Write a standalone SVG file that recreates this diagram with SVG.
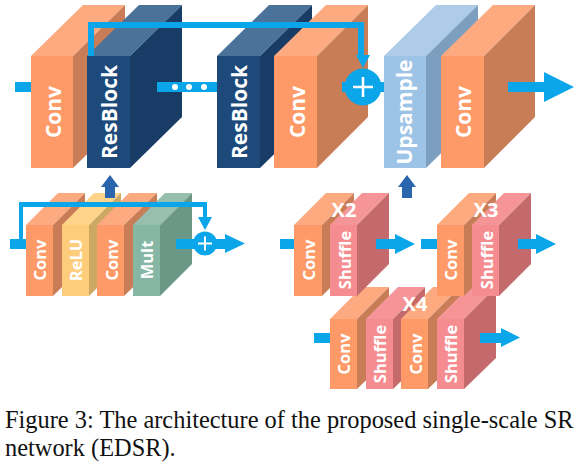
<svg xmlns="http://www.w3.org/2000/svg" width="578" height="465" viewBox="0 0 578 465">
<style>
.o .f{fill:#fd9a68}.o .s{fill:#c97d56}.o .t{fill:#fdaa80}
.n .f{fill:#1d4a7a}.n .s{fill:#183c66}.n .t{fill:#4b7298}
.u .f{fill:#9dc3e6}.u .s{fill:#7c9ebf}.u .t{fill:#aecbe7}
.p .f{fill:#f58d90}.p .s{fill:#c46a6c}.p .t{fill:#f59598}
.g .f{fill:#86b7a4}.g .s{fill:#6a9786}.g .t{fill:#98bfae}
.y .f{fill:#fdcd7c}.y .s{fill:#cca862}.y .t{fill:#fdd48a}
text{font-family:"Open Sans","DejaVu Sans",sans-serif;font-weight:700;fill:#fff;text-anchor:middle}
.L{font-size:21px}.M{font-size:16.500px}.X{font-size:20px}
.b{fill:#0ba6ea}.d{fill:#2a66ad}
.c{font-family:"Liberation Serif","Times New Roman",serif;font-weight:400;fill:#111;text-anchor:start;font-size:24.400px}
</style>
<g id="node-conv1" class="o"><polygon class="t" points="31,56 83,5 125,5 73,56"/><polygon class="s" points="73,56 125,5 125,117 73,168"/><rect class="f" x="31" y="56" width="42" height="112"/><text class="L" transform="translate(61,112) rotate(-90)">Conv</text></g>
<g id="node-resblock1" class="n"><polygon class="t" points="87,56 139,5 182,5 130,56"/><polygon class="s" points="130,56 182,5 182,117 130,168"/><rect class="f" x="87" y="56" width="43" height="112"/><text class="L" transform="translate(117,112) rotate(-90)">ResBlock</text></g>
<g id="node-resblock2" class="n"><polygon class="t" points="217,56 269,5 312,5 260,56"/><polygon class="s" points="260,56 312,5 312,117 260,168"/><rect class="f" x="217" y="56" width="43" height="112"/><text class="L" transform="translate(247,112) rotate(-90)">ResBlock</text></g>
<g id="node-conv2" class="o"><polygon class="t" points="274,56 326,5 368,5 317,56"/><polygon class="s" points="317,56 368,5 368,117 317,168"/><rect class="f" x="274" y="56" width="43" height="112"/><text class="L" transform="translate(305,112) rotate(-90)">Conv</text></g>
<g id="node-upsample" class="u"><polygon class="t" points="384,56 436,5 478,5 426,56"/><polygon class="s" points="426,56 478,5 478,117 426,168"/><rect class="f" x="384" y="56" width="42" height="112"/><text class="L" transform="translate(412,112) rotate(-90)">Upsample</text></g>
<g id="node-conv3" class="o"><polygon class="t" points="441,56 493,5 535,5 484,56"/><polygon class="s" points="484,56 535,5 535,117 484,168"/><rect class="f" x="441" y="56" width="43" height="112"/><text class="L" transform="translate(471,112) rotate(-90)">Conv</text></g>

<g id="node-res-conv1" class="o"><polygon class="t" points="26,225 58,193 85,193 53,225"/><polygon class="s" points="53,225 85,193 85,264 53,296"/><rect class="f" x="26" y="225" width="27" height="71"/><text class="M" transform="translate(46,260) rotate(-90)">Conv</text></g>
<g id="node-res-relu" class="y"><polygon class="t" points="62,225 94,193 121,193 89,225"/><polygon class="s" points="89,225 121,193 121,264 89,296"/><rect class="f" x="62" y="225" width="27" height="71"/><text class="M" transform="translate(82,260) rotate(-90)">ReLU</text></g>
<g id="node-res-conv2" class="o"><polygon class="t" points="97,225 129,193 157,193 124,225"/><polygon class="s" points="124,225 157,193 157,264 124,296"/><rect class="f" x="97" y="225" width="27" height="71"/><text class="M" transform="translate(118,260) rotate(-90)">Conv</text></g>
<g id="node-res-mult" class="g"><polygon class="t" points="133,225 165,193 192,193 160,225"/><polygon class="s" points="160,225 192,193 192,264 160,296"/><rect class="f" x="133" y="225" width="27" height="71"/><text class="M" transform="translate(153,260) rotate(-90)">Mult</text></g>

<g id="node-x4">
<g class="o"><polygon class="t" points="330,319 362,287 389,287 357,319"/><polygon class="s" points="357,319 389,287 389,358 357,389"/><rect class="f" x="330" y="319" width="27" height="70"/><text class="M" transform="translate(350,354) rotate(-90)">Conv</text></g>
<g class="p"><polygon class="t" points="366,319 398,287 425,287 393,319"/><polygon class="s" points="393,319 425,287 425,358 393,389"/><rect class="f" x="366" y="319" width="27" height="70"/><text class="M" transform="translate(386,354) rotate(-90)">Shuffle</text></g>
<g class="o"><polygon class="t" points="401,319 433,287 460,287 428,319"/><polygon class="s" points="428,319 460,287 460,358 428,389"/><rect class="f" x="401" y="319" width="27" height="70"/><text class="M" transform="translate(422,354) rotate(-90)">Conv</text></g>
<g class="p"><polygon class="t" points="437,319 469,287 496,287 464,319"/><polygon class="s" points="464,319 496,287 496,358 464,389"/><rect class="f" x="437" y="319" width="27" height="70"/><text class="M" transform="translate(457,354) rotate(-90)">Shuffle</text></g>
<text class="X" x="415" y="311">X4</text>
</g>
<g id="node-x2">
<g class="o"><polygon class="t" points="294,225 326,193 354,193 322,225"/><polygon class="s" points="322,225 354,193 354,264 322,296"/><rect class="f" x="294" y="225" width="28" height="71"/><text class="M" transform="translate(315,260) rotate(-90)">Conv</text></g>
<g class="p"><polygon class="t" points="330,225 362,193 389,193 357,225"/><polygon class="s" points="357,225 389,193 389,264 357,296"/><rect class="f" x="330" y="225" width="27" height="71"/><text class="M" transform="translate(351,260) rotate(-90)">Shuffle</text></g>
<text class="X" x="344" y="217">X2</text>
</g>
<g id="node-x3">
<g class="o"><polygon class="t" points="437,225 469,193 496,193 464,225"/><polygon class="s" points="464,225 496,193 496,264 464,296"/><rect class="f" x="437" y="225" width="27" height="71"/><text class="M" transform="translate(457,260) rotate(-90)">Conv</text></g>
<g class="p"><polygon class="t" points="472,225 504,193 531,193 499,225"/><polygon class="s" points="499,225 531,193 531,264 499,296"/><rect class="f" x="472" y="225" width="27" height="71"/><text class="M" transform="translate(493,260) rotate(-90)">Shuffle</text></g>
<text class="X" x="486" y="217">X3</text>
</g>

<g id="connectors">
<rect class="b" x="15" y="82" width="16" height="10"/>
<rect class="b" x="157" y="82" width="60" height="10"/>
<g fill="#fff"><circle cx="175" cy="87" r="3"/><circle cx="189" cy="87" r="3"/><circle cx="204" cy="87" r="3"/></g>
<path class="b" d="M88 56V22H364V55H370L363 68L356 55H358V28H94V56Z"/>
<rect class="b" x="342" y="82" width="42" height="10"/>
<circle class="b" cx="363" cy="87" r="18.500"/>
<path d="M353 87H373M363 77V97" stroke="#fff" stroke-width="2.500" fill="none"/>
<path class="b" d="M508 82H544V72L574 87L544 102V92H508Z"/>
<path class="d" d="M110 175L119 187H115V198H105V187H101Z"/>
<path class="d" d="M407 175L416 187H412V198H402V187H398Z"/>
<rect class="b" x="10" y="239" width="16" height="10"/>
<path class="b" d="M19 240V202H207V217H212L205 230L198 217H203V207H23V240Z"/>
<path class="b" d="M176 239H225V234L245 243.500L225 253V249H176Z"/>
<circle class="b" cx="205" cy="243.500" r="12"/>
<path d="M198 243.500H212M205 236.500V250.500" stroke="#fff" stroke-width="2" fill="none"/>
<rect class="b" x="280" y="239" width="14" height="10"/>
<path class="b" d="M376 239H395V234L415 244L395 254V249H376Z"/>
<rect class="b" x="421" y="239" width="16" height="10"/>
<path class="b" d="M518 239H536V234L556 244L536 254V249H518Z"/>
<rect class="b" x="314" y="333" width="16" height="10"/>
<path class="b" d="M480 333H501V328L520 337.500L501 347V343H480Z"/>
</g>
<text class="c" x="5" y="428">Figure 3: The architecture of the proposed single-scale SR</text>
<text class="c" x="5" y="456">network (EDSR).</text>
</svg>
